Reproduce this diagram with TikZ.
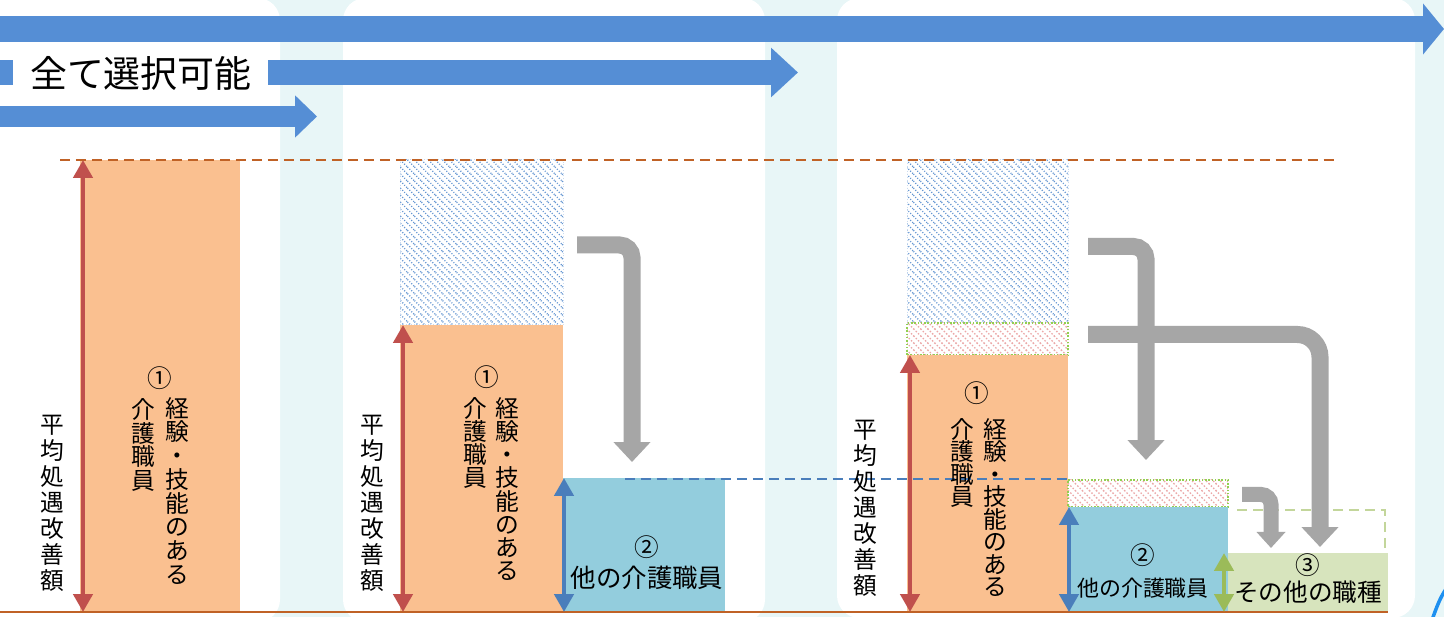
\documentclass[tikz,border=0pt]{standalone}
\usepackage{fontspec}
\newfontfamily\jpfont{Noto Sans CJK JP}
\usepackage{tikz}
\usetikzlibrary{arrows.meta, patterns, fit}
\definecolor{bgCyan}{RGB}{232,246,247}
\definecolor{selBlue}{RGB}{85,142,213}
\definecolor{capBrown}{RGB}{192,98,38}
\definecolor{skillOrange}{RGB}{250,192,144}
\definecolor{avgRed}{RGB}{192,80,77}
\definecolor{careBlue}{RGB}{147,205,221}
\definecolor{careArrow}{RGB}{74,126,187}
\definecolor{otherGreen}{RGB}{215,228,189}
\definecolor{otherArrow}{RGB}{155,187,89}
\definecolor{otherDash}{RGB}{195,214,155}
\definecolor{moveGray}{RGB}{166,166,166}
\definecolor{hatchBlue}{RGB}{100,150,210}
\definecolor{hatchPink}{RGB}{236,168,168}
\definecolor{edgeGreen}{RGB}{146,208,80}
\definecolor{rimBlue}{RGB}{30,144,240}
\newcommand\jpsize[2]{\jpfont\fontsize{#1}{#2}\selectfont}
\lineskiplimit=-20pt
% back-slash hatching
\pgfdeclarepatternformonly{slashfill}{\pgfqpoint{-1pt}{-1pt}}{\pgfqpoint{5pt}{5pt}}{\pgfqpoint{4pt}{4pt}}{
	\pgfsetlinewidth{0.75pt}
	\pgfpathmoveto{\pgfqpoint{-0.1pt}{4.1pt}}
	\pgfpathlineto{\pgfqpoint{4.1pt}{-0.1pt}}
	\pgfusepath{stroke}}
\tikzset{
	panel/.style={fill=white, rounded corners=0.45cm},
	barfill/.style={inner sep=0pt, outer sep=0pt},
	bluehatch/.style={barfill, pattern=slashfill, pattern color=hatchBlue,
		draw=hatchBlue!35, densely dotted, line width=0.02cm},
	pinkhatch/.style={barfill, pattern=slashfill, pattern color=hatchPink,
		draw=edgeGreen, densely dotted, line width=0.03cm},
	dblarr/.style={{Triangle[width=0.38cm,length=0.36cm]}-{Triangle[width=0.38cm,length=0.36cm]},
		line width=0.09cm},
	movearr/.style={draw=moveGray, line width=0.34cm,
		-{Triangle[width=0.72cm,length=0.4cm]}, rounded corners=#1},
	avglabel/.style={font=\jpsize{13.5pt}{14.8pt}, align=center, anchor=north, inner sep=0pt},
	vtext/.style={font=\jpsize{13.5pt}{#1}, align=center, anchor=north, inner sep=0pt},
	numlabel/.style={font=\jpsize{14pt}{14pt}, inner sep=0pt},
	htext/.style={font=\jpsize{#1}{#1}, inner sep=0pt}
}
\begin{document}
\begin{tikzpicture}[x=0.02cm, y=-0.02cm]
	\useasboundingbox (0,0) rectangle (1444,617);
	\fill[bgCyan] (0,0) rectangle (1444,617);
	% panels
	\fill[panel] (-40,-2) rectangle (280,622);
	\fill[panel] (343,-2) rectangle (765,622);
	\fill[panel] (837,-2) rectangle (1415,618);
	\draw[rimBlue, line width=0.07cm] (1432,620) .. controls (1437,606) and (1440,598) .. (1446,589);

	% selection arrows
	\draw[selBlue, line width=0.52cm, -{Triangle[width=1.0cm,length=0.42cm]}] (0,29) -- (1444,29);
	\draw[selBlue, line width=0.5cm, -{Triangle[width=0.96cm,length=0.54cm]}] (0,72.5) -- (798,72.5);
	\draw[selBlue, line width=0.42cm, -{Triangle[width=0.82cm,length=0.44cm]}] (0,116.5) -- (317,116.5);
	\node[fill=white, inner sep=0pt, minimum width=5.1cm, minimum height=1.22cm, anchor=north west,
		font=\jpsize{21pt}{21pt}] (allsel) at (13,43) {全て選択可能};

	% bars
	\node[barfill, fill=skillOrange, fit={(80,160) (240,612)}] (skill1) {};
	\node[bluehatch, fit={(400,160) (563,325)}] (gap2) {};
	\node[barfill, fill=skillOrange, fit={(400,325) (563,612)}] (skill2) {};
	\node[barfill, fill=careBlue, fit={(563,478) (725,612)}] (care2) {};
	\node[bluehatch, fit={(907,160) (1068,323)}] (gap3) {};
	\node[pinkhatch, fit={(907,323) (1068,355)}] (cut3) {};
	\node[barfill, fill=skillOrange, fit={(907,355) (1068,612)}] (skill3) {};
	\node[pinkhatch, fit={(1068,480) (1228,507)}] (cutc3) {};
	\node[barfill, fill=careBlue, fit={(1068,507) (1228,612)}] (care3) {};
	\node[barfill, fill=otherGreen, fit={(1228,553) (1388,612)}] (staff3) {};

	% guide lines
	\draw[capBrown, line width=0.05cm, dash pattern=on 0.2cm off 0.12cm] (60,160) -- (1338,160);
	\draw[careArrow, line width=0.04cm, dash pattern=on 0.2cm off 0.12cm] (625,479) -- (1068,479);
	\draw[otherDash, line width=0.04cm, dash pattern=on 0.2cm off 0.12cm] (1237,510) -- (1385,510) -- (1385,553);
	\draw[capBrown, line width=0.05cm] (0,612) -- (1388,612);

	% size arrows
	\foreach \b in {skill1, skill2, skill3}
		\draw[dblarr, avgRed] ([xshift=0.06cm]\b.north west) -- ([xshift=0.06cm]\b.south west);
	\foreach \b in {care2, care3}
		\draw[dblarr, careArrow] ([xshift=0.02cm]\b.north west) -- ([xshift=0.02cm]\b.south west);
	\draw[dblarr, otherArrow] ([xshift=-0.08cm]staff3.north west) -- ([xshift=-0.08cm]staff3.south west);

	% moving arrows
	\coordinate (mv2s) at (577,245);
	\coordinate (mv2e) at (632,462);
	\coordinate (mvAs) at (1088,246.5);
	\coordinate (mvAe) at (1146,460);
	\coordinate (mvBs) at (1088,334.5);
	\coordinate (mvBe) at (1320,547);
	\coordinate (mvCs) at (1242,494.5);
	\coordinate (mvCe) at (1271,548);
	\draw[movearr=0.25cm] (mv2s) -| (mv2e);
	\draw[movearr=0.25cm] (mvAs) -| (mvAe);
	\draw[movearr=0.45cm] (mvBs) -| (mvBe);
	\draw[movearr=0.2cm, line width=0.3cm, -{Triangle[width=0.56cm,length=0.32cm]}] (mvCs) -| (mvCe);

	% labels
	\foreach \x/\y/\n in {52/415/1, 372/415/2, 865/420/3}
		\node[avglabel] (avg\n) at (\x,\y) {平\\均\\処\\遇\\改\\善\\額};
	\node[numlabel] (num1) at (160,378) {①};
	\node[vtext=13.5pt] (exp1) at (177,397) {経\\験\\・\\技\\能\\の\\あ\\る};
	\node[vtext=13.5pt] (job1) at (143,398) {介\\護\\職\\員};
	\node[numlabel] (num2) at (487,377) {①};
	\node[vtext=13.2pt] (exp2) at (507,397) {経\\験\\・\\技\\能\\の\\あ\\る};
	\node[vtext=13.2pt] (job2) at (475,397) {介\\護\\職\\員};
	\node[numlabel] (num3) at (977,393) {①};
	\node[vtext=12.8pt] (exp3) at (995,418) {経\\験\\・\\技\\能\\の\\あ\\る};
	\node[vtext=12.8pt] (job3) at (962,418) {介\\護\\職\\員};
	\node[numlabel] (numc2) at (647,547) {②};
	\node[htext=14.5pt] (name2) at (647,578) {他の介護職員};
	\node[numlabel] (numc3) at (1143,555) {②};
	\node[htext=12.5pt] (name3) at (1143,588) {他の介護職員};
	\node[numlabel] (nums3) at (1308,565) {③};
	\node[htext=14pt] (names3) at (1308,592) {その他の職種};
\end{tikzpicture}
\end{document}
